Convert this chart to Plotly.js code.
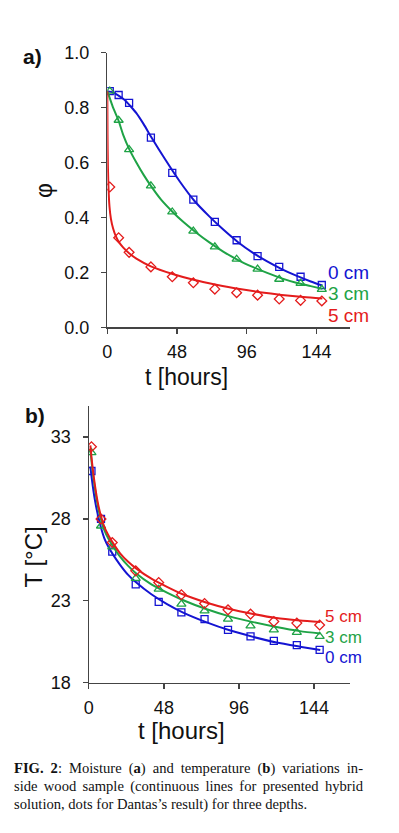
<!DOCTYPE html>
<html>
<head>
<meta charset="utf-8">
<script src="https://cdn.plot.ly/plotly-3.0.1.min.js"></script>
<style>
  html, body { margin: 0; padding: 0; background: #fff; }
  #wrap { position: relative; width: 399px; height: 833px; overflow: hidden; }
  #chart { position: absolute; left: 0; top: 0; width: 399px; height: 833px; }
  #caption { position: absolute; left: 14px; top: 759px; width: 349px;
    font-family: "Liberation Serif", "Times New Roman", serif; font-size: 14.6px;
    line-height: 18.2px; color: #111; }
  #caption div { white-space: nowrap; }
  #caption .j { text-align: justify; text-align-last: justify; }
</style>
</head>
<body>
<div id="wrap">
  <div id="chart"></div>
  <div id="caption">
    <div class="j"><b>FIG. 2</b>: Moisture (<b>a</b>) and temperature (<b>b</b>) variations in-</div>
    <div class="j">side wood sample (continuous lines for presented hybrid</div>
    <div>solution, dots for Dantas’s result) for three depths.</div>
  </div>
</div>
<script>
// ---- data ----
const depthLabels = ["0 cm", "3 cm", "5 cm"];
const colors = ["#1414d2", "#1fa346", "#e41c1c"];

// Dantas's results (markers), time in hours
const tMarks = [1.7, 7.8, 15, 30, 44.7, 59.2, 74, 89, 103.4, 118.3, 133, 147.6];
const phiMark0 = [0.860, 0.846, 0.817, 0.691, 0.562, 0.465, 0.384, 0.317, 0.259, 0.220, 0.184, 0.154];
const phiMark3 = [0.860, 0.754, 0.647, 0.515, 0.420, 0.350, 0.293, 0.248, 0.212, 0.175, 0.160, 0.138];
const phiMark5 = [0.511, 0.326, 0.273, 0.220, 0.184, 0.162, 0.139, 0.126, 0.117, 0.103, 0.098, 0.096];

const tempMark0 = [30.93, 28.0, 26.0, 24.0, 22.94, 22.29, 21.88, 21.23, 20.83, 20.56, 20.30, 20.01];
const tempMark3 = [32.05, 27.57, 26.3, 24.37, 23.71, 22.8, 22.39, 21.88, 21.47, 21.23, 21.07, 20.83];
const tempMark5 = [32.41, 28.0, 26.56, 24.83, 24.12, 23.37, 22.84, 22.45, 22.19, 21.74, 21.64, 21.52];

// hybrid solution (continuous lines)
const tPhiLine0 = [0, 4, 8, 12, 16, 20, 25, 30, 40, 50, 60, 70, 80, 90, 100, 110, 120, 130, 140, 148];
const phiLine0  = [0.86, 0.855, 0.843, 0.828, 0.805, 0.78, 0.74, 0.695, 0.61, 0.53, 0.46, 0.405, 0.355, 0.31, 0.272, 0.24, 0.212, 0.188, 0.167, 0.152];
const tPhiLine3 = [0, 2, 4, 7.6, 11, 15, 20, 25, 30, 37, 45, 52, 60, 70, 80, 90, 100, 110, 120, 130, 140, 148];
const phiLine3  = [0.86, 0.83, 0.80, 0.755, 0.70, 0.65, 0.60, 0.555, 0.515, 0.465, 0.42, 0.385, 0.35, 0.31, 0.275, 0.245, 0.22, 0.198, 0.178, 0.162, 0.15, 0.14];
const tPhiLine5 = [0, 0.15, 0.4, 0.8, 1.5, 2.5, 4, 6, 8, 11, 15, 20, 30, 45, 60, 75, 90, 105, 120, 135, 148];
const phiLine5  = [0.86, 0.70, 0.59, 0.51, 0.44, 0.395, 0.36, 0.33, 0.31, 0.29, 0.27, 0.25, 0.222, 0.194, 0.172, 0.155, 0.14, 0.128, 0.118, 0.11, 0.105];

const tTempLine = [1, 2, 3, 4, 5, 6.4, 8, 10, 12.5, 15, 20, 25, 30, 40, 50, 60, 75, 90, 105, 120, 135, 148];
const tempLine0 = [31.2, 30.4, 29.7, 29.1, 28.6, 28.0, 27.4, 26.8, 26.3, 25.9, 25.2, 24.6, 24.15, 23.4, 22.8, 22.3, 21.7, 21.2, 20.8, 20.45, 20.2, 20.0];
const tempLine3 = [32.2, 31.3, 30.5, 29.8, 29.2, 28.5, 27.9, 27.3, 26.8, 26.4, 25.7, 25.15, 24.7, 24.0, 23.5, 23.05, 22.5, 22.05, 21.7, 21.4, 21.15, 21.0];
const tempLine5 = [32.5, 31.5, 30.7, 30.0, 29.4, 28.7, 28.1, 27.5, 27.0, 26.6, 25.9, 25.4, 25.0, 24.35, 23.85, 23.4, 22.9, 22.5, 22.2, 21.95, 21.8, 21.7];

const xTicks = [0, 48, 96, 144];
const phiTicks = [0, 0.2, 0.4, 0.6, 0.8, 1.0];
const phiTickText = ["0.0", "0.2", "0.4", "0.6", "0.8", "1.0"];
const tempTicks = [18, 23, 28, 33];

// ---- build figure ----
const W = 399, H = 833;
const FONT = "Liberation Sans, Arial, sans-serif";
const symbols = ["square-open", "triangle-up-open", "diamond-open"];
const msizes = [7, 8, 7.5];

const phiLines = [[tPhiLine0, phiLine0], [tPhiLine3, phiLine3], [tPhiLine5, phiLine5]];
const phiMarks = [phiMark0, phiMark3, phiMark5];
const tempLines = [tempLine0, tempLine3, tempLine5];
const tempMarks = [tempMark0, tempMark3, tempMark5];

const traces = [];
for (let i = 0; i < 3; i++) {
  traces.push({ x: phiLines[i][0], y: phiLines[i][1], xaxis: "x", yaxis: "y", mode: "lines",
    line: { color: colors[i], width: 2, shape: "spline", smoothing: 0.6 }, name: depthLabels[i], showlegend: false, hoverinfo: "skip" });
  traces.push({ x: tMarks, y: phiMarks[i], xaxis: "x", yaxis: "y", mode: "markers",
    marker: { symbol: symbols[i], size: msizes[i], color: colors[i], line: { color: colors[i], width: 1.3 } }, showlegend: false });
}
for (let i = 0; i < 3; i++) {
  traces.push({ x: tTempLine, y: tempLines[i], xaxis: "x2", yaxis: "y2", mode: "lines",
    line: { color: colors[i], width: 2, shape: "spline", smoothing: 0.6 }, name: depthLabels[i], showlegend: false, hoverinfo: "skip" });
  traces.push({ x: tMarks, y: tempMarks[i], xaxis: "x2", yaxis: "y2", mode: "markers",
    marker: { symbol: symbols[i], size: msizes[i], color: colors[i], line: { color: colors[i], width: 1.3 } }, showlegend: false });
}

const px = v => v / W;
const py = v => 1 - v / H;

const axBase = {
  showline: true, linecolor: "#444", linewidth: 1.3, showgrid: false, zeroline: false,
  ticks: "outside", ticklen: 5, tickwidth: 1.3, tickcolor: "#444",
  tickfont: { family: FONT, size: 18, color: "#111" }, fixedrange: true
};

function lab(text, x, y, size, color) {
  return { text: text, x: px(x), y: py(y), xref: "paper", yref: "paper", showarrow: false,
    xanchor: "left", yanchor: "middle", borderpad: 0, font: { family: FONT, size: size, color: color } };
}

const layout = {
  width: W, height: H, margin: { l: 0, r: 0, t: 0, b: 0 },
  paper_bgcolor: "#fff", plot_bgcolor: "#fff", showlegend: false,
  xaxis: Object.assign({}, axBase, { domain: [px(107.3), px(350)], range: [0, 167], tickvals: xTicks, anchor: "y", ticklabelstandoff: 3 }),
  yaxis: Object.assign({}, axBase, { domain: [py(327.3), py(52.7)], range: [0, 1], tickvals: phiTicks, ticktext: phiTickText, anchor: "x", ticklabelstandoff: 8 }),
  xaxis2: Object.assign({}, axBase, { domain: [px(88.8), px(350)], range: [0, 167], tickvals: xTicks, anchor: "y2", ticklabelstandoff: 3 }),
  yaxis2: Object.assign({}, axBase, { domain: [py(682.7), py(406)], range: [18, 34.9], tickvals: tempTicks, anchor: "x2", ticklabelstandoff: 8 }),
  annotations: [
    { text: "<b>a)</b>", x: px(32.5), y: py(56.5), xref: "paper", yref: "paper", showarrow: false, xanchor: "center", yanchor: "middle", font: { family: FONT, size: 21, color: "#111" } },
    { text: "<b>b)</b>", x: px(35), y: py(415), xref: "paper", yref: "paper", showarrow: false, xanchor: "center", yanchor: "middle", font: { family: FONT, size: 21, color: "#111" } },
    { text: "φ", x: px(44), y: py(191), xref: "paper", yref: "paper", showarrow: false, textangle: -90, xanchor: "center", yanchor: "middle", font: { family: FONT, size: 23, color: "#111" } },
    { text: "t [hours]", x: px(186.7), y: py(376.7), xref: "paper", yref: "paper", showarrow: false, xanchor: "center", yanchor: "middle", font: { family: FONT, size: 23, color: "#111" } },
    { text: "T [°C]", x: px(33), y: py(557.5), xref: "paper", yref: "paper", showarrow: false, textangle: -90, xanchor: "center", yanchor: "middle", font: { family: FONT, size: 24, color: "#111" } },
    { text: "t [hours]", x: px(181.5), y: py(730), xref: "paper", yref: "paper", showarrow: false, xanchor: "center", yanchor: "middle", font: { family: FONT, size: 24, color: "#111" } },
    // depth labels, moisture chart
    lab(depthLabels[0], 327, 273, 19, colors[0]),
    lab(depthLabels[1], 327, 293.5, 19, colors[1]),
    lab(depthLabels[2], 327, 315, 19, colors[2]),
    // depth labels, temperature chart
    lab(depthLabels[2], 324, 616.5, 17, colors[2]),
    lab(depthLabels[1], 324, 637, 17, colors[1]),
    lab(depthLabels[0], 324, 657.5, 17, colors[0])
  ]
};

Plotly.newPlot("chart", traces, layout, { staticPlot: true, displayModeBar: false });
</script>
</body>
</html>
